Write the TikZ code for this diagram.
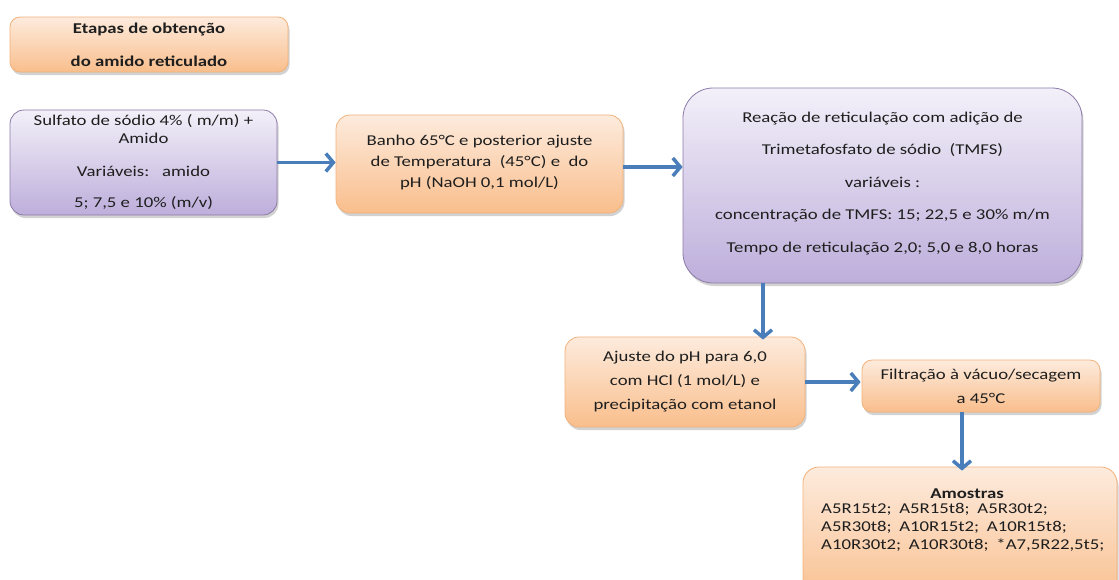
\documentclass[tikz,border=0pt]{standalone}
\usepackage{fontspec}
\setmainfont{Carlito}[FakeStretch=1.25]
\usetikzlibrary{arrows.meta,shadows,calc}
\definecolor{orTop}{HTML}{FDEBDD}
\definecolor{orBot}{HTML}{F9BE8C}
\definecolor{orLine}{HTML}{F2B27A}
\definecolor{puTop}{HTML}{F3F0F9}
\definecolor{puBot}{HTML}{BDAEDB}
\definecolor{puLine}{HTML}{8C7BA8}
\definecolor{arrBlue}{HTML}{4A7EBB}
\definecolor{txt}{HTML}{1E1E1E}
\newcommand{\gapx}{\ \hspace{3.5pt}}
\tikzset{
  box/.style={draw, line width=0.8pt, inner sep=0pt, align=center, text=txt,
    font=\fontsize{15}{18}\selectfont,
    drop shadow={opacity=0.35, shadow xshift=1.5pt, shadow yshift=-3pt}},
  orbox/.style={box, draw=orLine, top color=orTop, bottom color=orBot},
  pubox/.style={box, draw=puLine, top color=puTop, bottom color=puBot},
  arr/.style={draw=arrBlue, line width=3.5pt, -{Straight Barb[length=7.5pt,width=18pt]}},
  plain/.style={inner sep=0pt, text=txt, font=\fontsize{15}{18}\selectfont}
}
\begin{document}
\begin{tikzpicture}[x=1pt,y=-1pt]
\clip (0,0) rectangle (1119,579);
\fill[white] (0,0) rectangle (1119,579);
\node[orbox, rounded corners=10pt, minimum width=278pt, minimum height=55pt,
  font=\bfseries\fontsize{15}{17}\selectfont] (T) at (149,44.5)
  {Etapas de obtenção\\[16pt]do amido reticulado};
\node[pubox, rounded corners=14pt, minimum width=267pt, minimum height=105pt] (A) at (143.5,162.5)
  {Sulfato de sódio 4\% ( m/m) +\\Amido\\[15pt]Variáveis:\ \ \ amido\\[13pt]5; 7,5 e 10\% (m/v)};
\node[orbox, rounded corners=14pt, minimum width=287pt, minimum height=98pt] (B) at (479.5,164)
  {\mbox{}\\[-10pt]Banho 65°C e posterior ajuste\\[3pt]de Temperatura\ \ (45°C) e\ \ do\\[3pt]pH (NaOH 0,1 mol/L)};
\node[pubox, rounded corners=30pt, minimum width=399pt, minimum height=195pt] (C) at (882.5,185.5)
  {\mbox{}\\[-12pt]Reação de reticulação com adição de\\[14.5pt]Trimetafosfato de sódio\ \ (TMFS)\\[14.5pt]variáveis :\\[14.5pt]concentração de TMFS: 15; 22,5 e 30\% m/m\\[14.5pt]Tempo de reticulação 2,0; 5,0 e 8,0 horas};
\node[orbox, rounded corners=14pt, minimum width=240pt, minimum height=90pt] (D) at (685,382)
  {Ajuste\ do pH\ para 6,0\\[6pt]com HCl (1 mol/L) e\\[6pt]precipitação com etanol};
\node[orbox, rounded corners=10pt, minimum width=238pt, minimum height=52pt] (E) at (981,386)
  {Filtração à vácuo/secagem\\[6pt]a 45°C};
\node[orbox, rounded corners=16pt, minimum width=314pt, minimum height=140pt] (F) at (960,537) {};
\node[plain, font=\bfseries\fontsize{15}{18}\selectfont] (Ft) at (967,494) {Amostras};
\node[plain, anchor=north west, align=left] (Fl) at (821,503)
  {A5R15t2;\gapx A5R15t8;\gapx A5R30t2;\\A5R30t8;\gapx A10R15t2;\gapx A10R15t8;\\A10R30t2;\gapx A10R30t8;\gapx *A7,5R22,5t5;};
\draw[arr] (A.east) -- (A.east -| B.west);
\draw[arr] ([yshift=-3pt]B.east) -- ([yshift=-3pt]B.east -| C.west);
\draw[arr] ([xshift=78pt]D.north |- C.south) -- ([xshift=78pt,yshift=-3pt]D.north);
\draw[arr] (D.east) -- ([xshift=-1pt]D.east -| E.west);
\draw[arr] ([xshift=-19pt]E.south) -- ([xshift=-19pt,yshift=-4pt]E.south |- F.north);
\end{tikzpicture}
\end{document}
